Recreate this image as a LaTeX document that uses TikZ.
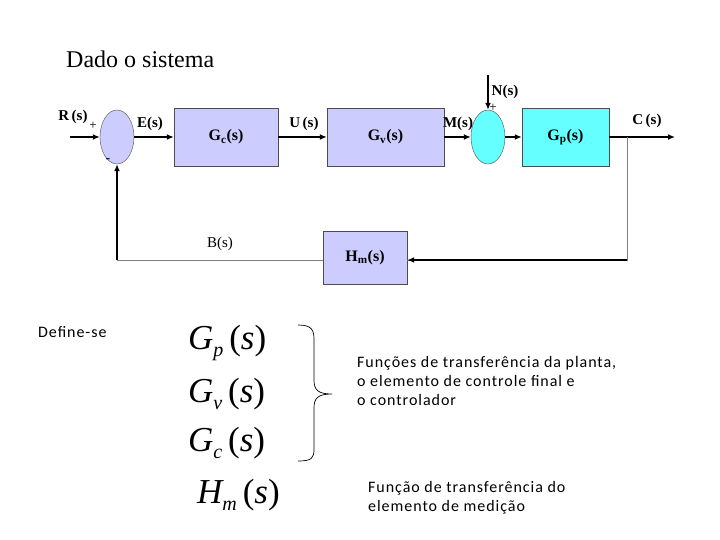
\documentclass[tikz,border=0pt]{standalone}
\usepackage{fontspec}
\setmainfont{Liberation Serif}
\newfontfamily\carl[LetterSpace=6]{Carlito}
\usetikzlibrary{arrows.meta,shapes.geometric}
\definecolor{cy}{RGB}{102,255,255}
\definecolor{lb}{RGB}{204,204,255}
\begin{document}
\begin{tikzpicture}[x=1pt,y=-1pt,
 blk/.style={draw=black!70,fill=lb,minimum width=#1,minimum height=58pt,inner sep=0,font=\bfseries\fontsize{16}{16}\selectfont},
 sum/.style={ellipse,draw=black!70,fill=#1,minimum width=34pt,minimum height=54pt,inner sep=0},
 lab/.style={font=\bfseries\fontsize{15}{15}\selectfont,inner sep=1pt},
 ar/.style={-{Latex[length=7pt,width=6pt]},line width=1.4pt},
 math/.style={font=\fontsize{35}{35}\selectfont\itshape,anchor=west,inner sep=0},
 txt/.style={font=\carl\fontsize{16}{19}\selectfont,align=left,anchor=north west,inner sep=0}]
\useasboundingbox (0,0) rectangle (720,540);
\node[font=\fontsize{24}{24}\selectfont,anchor=west,inner sep=0] (t) at (66,59) {Dado o sistema};
\node[sum=lb] (s1) at (117,137) {};
\node[blk=104pt] (gc) at (226,137) {G\textsubscript{c}(s)};
\node[blk=117pt] (gv) at (385.5,137) {G\textsubscript{v}(s)};
\node[sum=cy] (s2) at (488,137) {};
\node[blk=87pt,fill=cy] (gp) at (565.5,137) {G\textsubscript{p}(s)};
\node[blk=84pt,minimum height=53pt] (hm) at (365,257.5) {H\textsubscript{m}(s)};
\coordinate (rin) at (70,137);
\coordinate (cout) at (675,137);
\coordinate (br) at (627,137);
\coordinate (nin) at (488,75);
\coordinate (bl) at (117,260);
\draw[ar] (rin) -- (s1);
\draw[ar] (s1) -- (gc);
\draw[ar] (gc) -- (gv);
\draw[ar] (gv) -- (s2);
\draw[ar] (s2) -- (gp);
\draw[ar] (gp) -- (cout);
\draw[ar] (nin) -- (s2);
\draw[black!50,line width=1pt] (br) |- (hm.east |- 0,260);
\draw[ar] (br |- 0,260) -- (hm.east |- 0,260);
\draw[black!50,line width=1pt] (hm.west |- 0,260) -- (bl);
\draw[ar] (bl) -- (s1);
\node[lab] at (73,117) {R\,(s)};
\node[font=\fontsize{13}{13}\selectfont] at (93,126) {+};
\node[font=\fontsize{14}{14}\selectfont] at (108,161) {-};
\node[lab] at (150,124) {E(s)};
\node[lab] at (304,124) {U\,(s)};
\node[lab] at (458,124) {M(s)};
\node[lab] at (505,92) {N(s)};
\node[font=\fontsize{13}{13}\selectfont] at (493,108) {+};
\node[lab] at (647,121) {C\,(s)};
\node[font=\fontsize{15}{15}\selectfont] at (220,244) {B(s)};
\node[font=\carl\fontsize{16}{16}\selectfont,anchor=west,inner sep=0] (def) at (38,332) {Define-se};
\node[math] (m1) at (188,343) {G\raisebox{-7pt}{\fontsize{20}{20}\selectfont p}\,\upshape(\itshape s\upshape)};
\node[math] (m2) at (188,394) {G\raisebox{-7pt}{\fontsize{20}{20}\selectfont v}\,\upshape(\itshape s\upshape)};
\node[math] (m3) at (188,443) {G\raisebox{-7pt}{\fontsize{20}{20}\selectfont c}\,\upshape(\itshape s\upshape)};
\node[math] (m4) at (197,495) {H\raisebox{-7pt}{\fontsize{20}{20}\selectfont m}\,\upshape(\itshape s\upshape)};
\draw[line width=0.7pt] (298,325) .. controls (312,325) and (314,330) .. (314,340) -- (314,380) .. controls (314,390) and (318,394) .. (332,394) .. controls (318,394) and (314,398) .. (314,408) -- (314,449) .. controls (314,458) and (312,461) .. (298,461);
\node[txt] (f1) at (357,356) {Funções de transferência da planta,\\o elemento de controle final e\\o controlador};
\node[txt] (f2) at (368,481) {Função de transferência do\\elemento de medição};
\end{tikzpicture}
\end{document}
